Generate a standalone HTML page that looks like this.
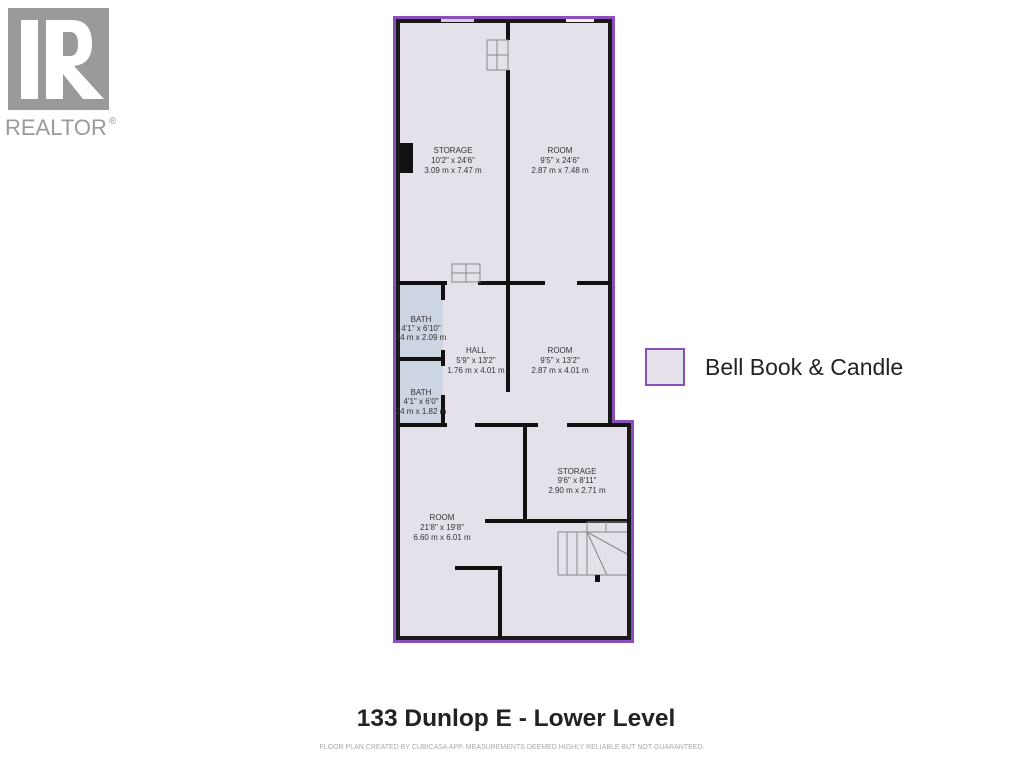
<!DOCTYPE html>
<html><head><meta charset="utf-8"><style>
body{margin:0;background:#fff;width:1024px;height:768px;overflow:hidden}
svg{display:block}
text{font-family:"Liberation Sans",sans-serif}
</style></head><body>
<svg width="1024" height="768" viewBox="0 0 1024 768">
<!-- Realtor logo -->
<rect x="8" y="8" width="101" height="102" fill="#9a9a9a"/>
<rect x="21" y="20" width="17" height="79" fill="#fff"/>
<path d="M46 20 H72 Q92 20 92 44 Q92 64 74 66 L104 99 H83 L63 74 V99 H46 Z" fill="#fff"/>
<path d="M63 32 H70 Q78 32 78 44 Q78 56 70 56 H63 Z" fill="#9a9a9a"/>
<text x="5" y="135" font-size="22" fill="#9a9a9a">REALTOR</text>
<text x="109" y="124" font-size="10" fill="#9a9a9a">®</text>

<!-- floor plan outline -->
<path d="M395 18 H613 V422 H632 V641 H395 Z" fill="#e5e1ea" stroke="#8a4fb8" stroke-width="4"/>
<path d="M398 21 H610 V425 H629 V638 H398 Z" fill="none" stroke="#1a1a1a" stroke-width="4"/>
<rect x="400" y="285" width="43" height="138" fill="#cdd4e2"/>
<rect x="400" y="143" width="13" height="30" fill="#111"/>
<g stroke="#111" stroke-width="4" fill="none">
<path d="M508 21 V40 M508 70 V285"/>
<path d="M508 283 V392"/>
<path d="M398 283 H447 M478 283 H545 M577 283 H610"/>
<path d="M443 283 V300 M443 350 V366 M443 395 V425"/>
<path d="M398 359 H443"/>
<path d="M398 425 H447 M475 425 H538 M567 425 H629"/>
<path d="M525 425 V521"/>
<path d="M485 521 H629"/>
<path d="M455 568 H500 V638"/>
</g>
<!-- stairs -->
<g stroke="#888" stroke-width="1" fill="none">
<rect x="487" y="40" width="21" height="30"/><path d="M497 40 V70 M487 55 H508"/>
<rect x="452" y="264" width="28" height="18"/><path d="M466 264 V282 M452 273 H480"/>
<path d="M558 532 H627 M558 575 H627 M558 532 V575 M567 532 V575 M577 532 V575 M587 532 V575 M587 522 H627 M587 522 V575 M587 532 L627 554 M587 532 L607 575 M606 522 V532"/>
</g>
<rect x="595" y="575" width="5" height="7" fill="#111"/>
<rect x="441" y="19" width="33" height="3" fill="#d8c8e8"/>
<rect x="566" y="19" width="28" height="3" fill="#f0eef4"/>

<g font-size="8" fill="#333" text-anchor="middle">
<text x="453" y="153">STORAGE</text><text x="453" y="163">10'2" x 24'6"</text><text x="453" y="173">3.09 m x 7.47 m</text>
<text x="560" y="153">ROOM</text><text x="560" y="163">9'5" x 24'6"</text><text x="560" y="173">2.87 m x 7.48 m</text>
<text x="421" y="322">BATH</text><text x="421" y="331">4'1" x 6'10"</text><text x="421" y="340">24 m x 2.09 m</text>
<text x="476" y="353">HALL</text><text x="476" y="363">5'9" x 13'2"</text><text x="476" y="373">1.76 m x 4.01 m</text>
<text x="560" y="353">ROOM</text><text x="560" y="363">9'5" x 13'2"</text><text x="560" y="373">2.87 m x 4.01 m</text>
<text x="421" y="395">BATH</text><text x="421" y="404">4'1" x 6'0"</text><text x="421" y="414">24 m x 1.82 m</text>
<text x="577" y="474">STORAGE</text><text x="577" y="483">9'6" x 8'11"</text><text x="577" y="493">2.90 m x 2.71 m</text>
<text x="442" y="520">ROOM</text><text x="442" y="530">21'8" x 19'8"</text><text x="442" y="540">6.60 m x 6.01 m</text>
</g>

<!-- legend -->
<rect x="646" y="349" width="38" height="36" fill="#e5e1ea" stroke="#8a4fb8" stroke-width="2"/>
<text x="705" y="375" font-size="23" fill="#222">Bell Book &amp; Candle</text>

<text x="516" y="726" font-size="24.5" font-weight="bold" fill="#222" text-anchor="middle">133 Dunlop E - Lower Level</text>
<text x="512" y="749" font-size="7" fill="#aaa" text-anchor="middle">FLOOR PLAN CREATED BY CUBICASA APP. MEASUREMENTS DEEMED HIGHLY RELIABLE BUT NOT GUARANTEED.</text>
</svg>
</body></html>
